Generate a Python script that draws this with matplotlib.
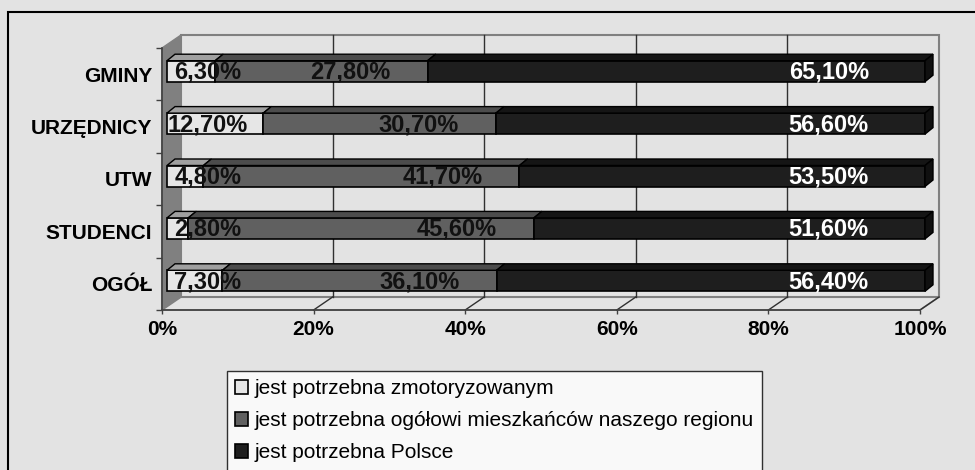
import numpy as np
import matplotlib.pyplot as plt
from matplotlib.patches import Polygon, Rectangle, Patch

plt.rcParams['font.family'] = ['Liberation Sans', 'DejaVu Sans']

# Data
categories = ["GMINY", "URZĘDNICY", "UTW", "STUDENCI", "OGÓŁ"]
motorized = [6.3, 12.7, 4.8, 2.8, 7.3]
region = [27.8, 30.7, 41.7, 45.6, 36.1]
poland = [65.1, 56.6, 53.5, 51.6, 56.4]
series_names = ["jest potrzebna zmotoryzowanym",
                "jest potrzebna ogółowi mieszkańców naszego regionu",
                "jest potrzebna Polsce"]
x_ticks = [0, 20, 40, 60, 80, 100]

# Styles
bg = "#e3e3e3"
front_cols = ["#e6e6e6", "#606060", "#1e1e1e"]
top_cols = ["#a0a0a0", "#4c4c4c", "#151515"]
side_col = "#101010"
text_cols = ["#111111", "#111111", "white"]

W, H = 975, 470
fig = plt.figure(figsize=(W / 100, H / 100), dpi=100, facecolor=bg)

# axes = front plane of the 3D box
L, R, B, T = 162, 920, 310, 48
ax = fig.add_axes([L / W, 1 - B / H, (R - L) / W, (B - T) / H])
ax.set_facecolor("none")
n = len(categories)
ax.set_xlim(0, 100)
ax.set_ylim(0, n)
px = 100 / (R - L)
py = n / (B - T)

dx, dy = 19 * px, 13 * py        # wall depth
ox, oy = 5 * px, 3 * py          # bar offset into depth
bdx, bdy = 8 * px, 6.5 * py      # bar depth
hh = 10.5 * py                   # half bar height

edge_gray = "#808080"

# left wall
ax.add_patch(Polygon([(0, 0), (0, n), (dx, n + dy), (dx, dy)], closed=True,
                     facecolor="#808080", edgecolor=edge_gray, lw=1, zorder=0, clip_on=False))
# floor
ax.add_patch(Polygon([(0, 0), (100, 0), (100 + dx, dy), (dx, dy)], closed=True,
                     facecolor=bg, edgecolor=edge_gray, lw=1.2, zorder=0, clip_on=False))
# back wall
ax.add_patch(Rectangle((dx, dy), 100, n, facecolor=bg, edgecolor=edge_gray,
                       lw=1.5, zorder=0, clip_on=False))
for xt in x_ticks[1:-1]:
    ax.plot([xt + dx, xt + dx], [dy, n + dy], color="#303030", lw=1, zorder=1, clip_on=False)
for xt in x_ticks[1:]:
    ax.plot([xt, xt + dx], [0, dy], color="#303030", lw=1, zorder=1, clip_on=False)

# bars
vals = np.array([motorized, region, poland])
pct = vals / vals.sum(axis=0) * 100
for i in range(n):
    c = n - 1 - i + 0.5 + oy
    yb, yt = c - hh, c + hh
    left = 0.0
    for s in range(3):
        x0 = ox + left
        x1 = ox + left + pct[s, i]
        ax.add_patch(Polygon([(x0, yb), (x1, yb), (x1, yt), (x0, yt)], closed=True,
                             facecolor=front_cols[s], edgecolor="black", lw=1.2,
                             zorder=3, clip_on=False))
        ax.add_patch(Polygon([(x0, yt), (x1, yt), (x1 + bdx, yt + bdy), (x0 + bdx, yt + bdy)],
                             closed=True, facecolor=top_cols[s], edgecolor="black", lw=1.0,
                             zorder=3, clip_on=False))
        if s == 2:
            ax.add_patch(Polygon([(x1, yb), (x1 + bdx, yb + bdy), (x1 + bdx, yt + bdy), (x1, yt)],
                                 closed=True, facecolor=side_col, edgecolor="black", lw=1.0,
                                 zorder=3, clip_on=False))
        # value labels, placed roughly where Excel put them
        txt = f"{vals[s, i]:.2f}%".replace(".", ",")
        if s == 0:
            lx, ha = ox + 5.4, "center"
        elif s == 1:
            lx, ha = x1 - 4.9, "right"
        else:
            lx, ha = ox + 87.3, "center"
        ax.text(lx, c - 0.02, txt, ha=ha, va="center", fontsize=17, fontweight="bold",
                color=text_cols[s], zorder=5, clip_on=False)
        left += pct[s, i]

# axes lines and ticks
for sp in ["top", "right"]:
    ax.spines[sp].set_visible(False)
for sp in ["left", "bottom"]:
    ax.spines[sp].set_color("#404040")
    ax.spines[sp].set_linewidth(1.2)
    ax.spines[sp].set_zorder(2)

ax.set_xticks(x_ticks)
ax.set_xticklabels([f"{t}%" for t in x_ticks], fontsize=15, fontweight="bold")
ax.set_yticks(range(n + 1))
ax.set_yticklabels([])
ax.set_yticks([k + 0.5 for k in range(n)], minor=True)
ax.set_yticklabels(categories[::-1], minor=True, fontsize=15, fontweight="bold")
ax.tick_params(axis="x", direction="out", length=3, width=1, color="#404040", pad=4)
ax.tick_params(axis="y", which="major", direction="out", length=4, width=1, color="#404040")
ax.tick_params(axis="y", which="minor", length=0, pad=7)

# legend
handles = [Patch(facecolor=front_cols[s], edgecolor="black", lw=1.2) for s in range(3)]
leg = fig.legend(handles, series_names, loc="upper left",
                 bbox_to_anchor=(227 / W, 1 - 371 / H), fontsize=15, frameon=True,
                 fancybox=False, shadow=False, handlelength=0.63, handleheight=0.63,
                 handletextpad=0.3, labelspacing=0.62, borderpad=0.4, borderaxespad=0)
leg.get_frame().set_facecolor("white")
leg.get_frame().set_edgecolor("black")
leg.get_frame().set_linewidth(1)

# outer chart border
fig.add_artist(Rectangle((8 / W, -0.01), 1.0, 1 - 12 / H + 0.01, transform=fig.transFigure,
                         facecolor="none", edgecolor="black", lw=1.5))

fig.savefig("out.png", dpi=100, facecolor=bg)
